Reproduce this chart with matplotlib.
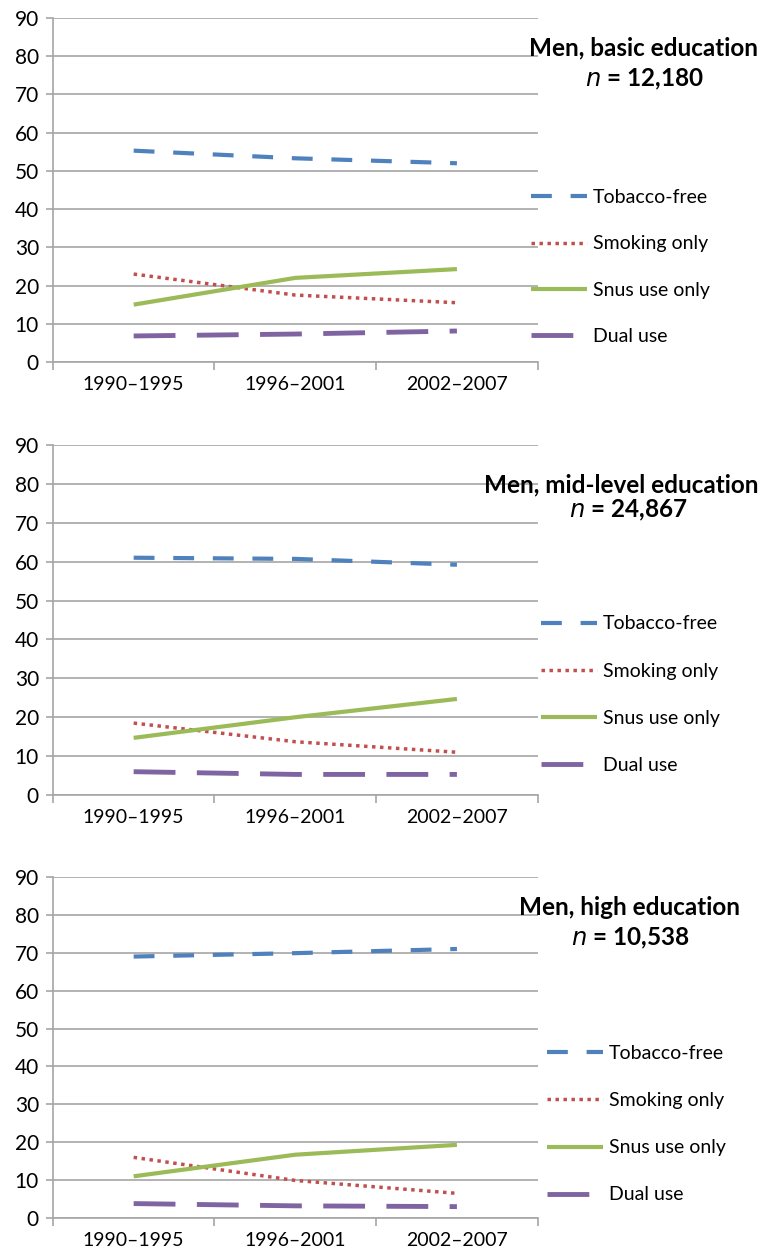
import numpy as np
import matplotlib.pyplot as plt

# Periods and series values (%)
periods = ['1990\u20131995', '1996\u20132001', '2002\u20132007']
labels = ['Tobacco-free', 'Smoking only', 'Snus use only', 'Dual use']

titles = ['Men, basic education', 'Men, mid-level education', 'Men, high education']
sizes = ['12,180', '24,867', '10,538']

basic_tobacco_free = [55.3, 53.3, 52.0]
basic_smoking = [23.0, 17.5, 15.5]
basic_snus = [15.0, 22.0, 24.3]
basic_dual = [6.8, 7.3, 8.1]

mid_tobacco_free = [61.0, 60.7, 59.2]
mid_smoking = [18.5, 13.7, 11.0]
mid_snus = [14.7, 20.0, 24.7]
mid_dual = [6.0, 5.3, 5.3]

high_tobacco_free = [69.0, 69.9, 71.0]
high_smoking = [16.0, 9.9, 6.5]
high_snus = [11.0, 16.7, 19.3]
high_dual = [3.8, 3.2, 3.0]

panels = [
    [basic_tobacco_free, basic_smoking, basic_snus, basic_dual],
    [mid_tobacco_free, mid_smoking, mid_snus, mid_dual],
    [high_tobacco_free, high_smoking, high_snus, high_dual],
]

plt.rcParams['font.family'] = ['Lato', 'DejaVu Sans']

colors = ['#4F81BD', '#C0504D', '#9BBB59', '#8064A2']
styles = [
    dict(linestyle=(0, (5, 4.5)), linewidth=3),
    dict(linestyle=(0, (1, 1.3)), linewidth=2.5),
    dict(linestyle='-', linewidth=3),
    dict(linestyle=(0, (8.6, 4.4)), linewidth=3.5),
]
grid_col = '#A6A6A6'

fig = plt.figure(figsize=(7.66, 12.55), dpi=100)

# axes boxes in figure fractions (left, bottom, width, height)
boxes = [
    (0.069, 0.7116, 0.633, 0.274),
    (0.069, 0.3665, 0.633, 0.279),
    (0.069, 0.0295, 0.633, 0.2717),
]
# per-panel placement of the title block and legend (axes fractions)
title_x = [1.219, 1.172, 1.190]
nline_x = [1.219, 1.186, 1.190]
title_y = [0.913, 0.886, 0.912]
nline_y = [0.823, 0.814, 0.821]
legend_x = [0.97, 0.99, 1.003]
legend_y = [0.525, 0.535, 0.53]
legend_sp = [1.5, 1.55, 1.55]

x = np.arange(len(periods))

for i, vals in enumerate(panels):
    ax = fig.add_axes(boxes[i])
    for j, v in enumerate(vals):
        ax.plot(x, v, color=colors[j], label=labels[j], solid_capstyle='butt',
                dash_capstyle='butt', **styles[j])
    ax.set_xlim(-0.5, 2.5)
    ax.set_ylim(0, 90)
    ax.set_yticks(np.arange(0, 91, 10))
    ax.yaxis.grid(True, color=grid_col, linewidth=1.2)
    ax.set_axisbelow(True)
    ax.set_xticks(x)
    ax.set_xticklabels(periods)
    ax.set_xticks([-0.5, 0.5, 1.5, 2.5], minor=True)
    ax.tick_params(axis='x', which='major', length=0, pad=10, labelsize=14)
    ax.tick_params(axis='x', which='minor', length=6, color=grid_col, width=1.2)
    ax.tick_params(axis='y', length=5, color=grid_col, width=1.2, labelsize=15, pad=5)
    for s in ['top', 'right']:
        ax.spines[s].set_visible(False)
    for s in ['left', 'bottom']:
        ax.spines[s].set_color(grid_col)
        ax.spines[s].set_linewidth(1.2)

    ax.text(title_x[i], title_y[i], titles[i], transform=ax.transAxes, ha='center',
            va='center', fontsize=17.5, fontweight='bold')
    ax.text(nline_x[i], nline_y[i], '$n$ = ' + sizes[i], transform=ax.transAxes,
            ha='center', va='center', fontsize=17.5, fontweight='bold')

    ax.legend(loc='upper left', bbox_to_anchor=(legend_x[i], legend_y[i]), frameon=False,
              fontsize=14, labelspacing=legend_sp[i], handlelength=2.9, handletextpad=0.3,
              borderaxespad=0)

fig.savefig('out.png', dpi=100)
